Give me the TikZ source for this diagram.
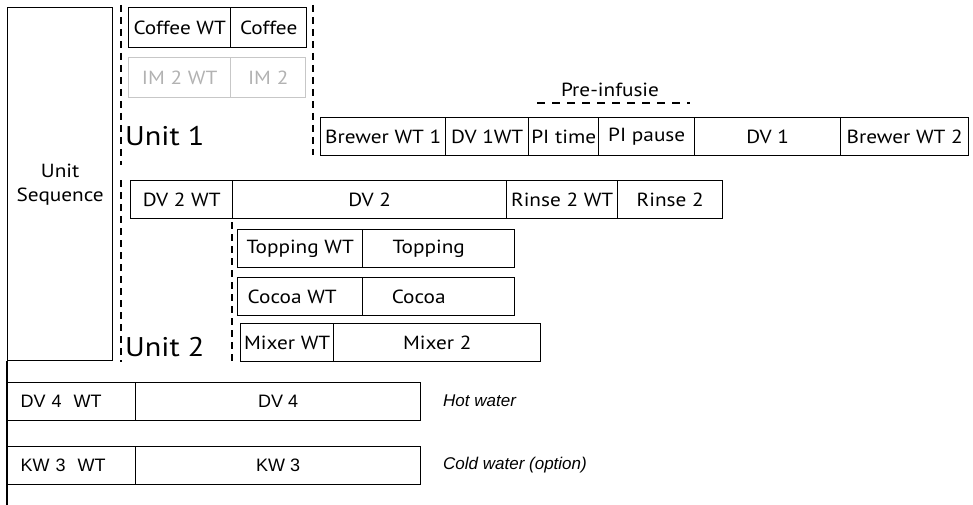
\documentclass[tikz,border=0pt]{standalone}
\usepackage{fontspec}
\setmainfont{PT Sans}[FakeStretch=1.12]
\newfontfamily\arialfont{Liberation Sans}
\begin{document}
\begin{tikzpicture}[x=1pt,y=-1pt,
  cell/.style={draw, line width=1.4pt, rectangle, anchor=north west, inner sep=0pt,
    minimum height=38pt, font=\fontsize{19}{21}\selectfont},
  graycell/.style={cell, draw=black!22, text=black!30, minimum height=40pt},
  acell/.style={cell, font=\arialfont\fontsize{18}{20}\selectfont},
  acellL/.style={acell, text width=102pt, inner xsep=13pt, align=left},
  divider/.style={line width=1.3pt, dash pattern=on 7pt off 5pt},
  predash/.style={line width=1.3pt, dash pattern=on 8pt off 7pt},
  unitlabel/.style={anchor=west, inner sep=0pt, font=\fontsize{27}{30}\selectfont},
  note/.style={anchor=west, inner sep=0pt, font=\arialfont\itshape\fontsize{17}{19}\selectfont}]
\useasboundingbox (0,0) rectangle (973,505);

% unit sequence
\node[cell, minimum width=105pt, minimum height=353pt, align=center] (seq) at (7,7) {Unit\\[3pt]Sequence};
\coordinate (seqend) at (7,505);
\draw[line width=1.4pt] (seq.south west) -- (seqend);

% unit 1
\node[cell, minimum width=102pt, minimum height=40pt] (coffeewt) at (128,7) {Coffee WT};
\node[cell, minimum width=76pt, minimum height=40pt] (coffee) at (230,7) {Coffee};
\node[graycell, minimum width=102pt] (im2wt) at (128,57) {IM 2 WT};
\node[graycell, minimum width=75pt] (im2) at (230,57) {IM 2};
\node[unitlabel] (unit1) at (125,136) {Unit 1};
\coordinate (u1a) at (121,5); \coordinate (u1b) at (121,165);
\coordinate (u1c) at (313,5); \coordinate (u1d) at (313,155);
\draw[divider] (u1a) -- (u1b);
\draw[divider] (u1c) -- (u1d);

% brewer row
\node[cell, minimum width=125pt] (b1) at (320,117) {Brewer WT 1};
\node[cell, minimum width=83pt] (dv1wt) at (445,117) {DV 1WT};
\node[cell, minimum width=70pt] (pitime) at (528,117) {PI time};
\node[cell, minimum width=96pt] (pipause) at (598,117) {PI pause};
\node[cell, minimum width=146pt] (dv1) at (694,117) {DV 1};
\node[cell, minimum width=128pt] (b2) at (840,117) {Brewer WT 2};
\node[inner sep=0pt, font=\fontsize{19}{21}\selectfont] (pre) at (610,90) {Pre-infusie};
\coordinate (prea) at (537,103); \coordinate (preb) at (690,103);
\draw[predash] (prea) -- (preb);

% DV2 row
\node[cell, minimum width=102pt] (dv2wt) at (130,180) {DV 2 WT};
\node[cell, minimum width=274pt] (dv2) at (232,180) {DV 2};
\node[cell, minimum width=111pt] (rinsewt) at (506,180) {Rinse 2 WT};
\node[cell, minimum width=105pt] (rinse) at (617,180) {Rinse 2};

% unit 2
\node[cell, minimum width=125pt] (topwt) at (237,229) {Topping WT};
\node[cell, minimum width=152pt] (top) at (362,229) {Topping\hspace*{20pt}};
\node[cell, minimum width=125pt] (cocwt) at (237,277) {Cocoa WT\hspace*{16pt}};
\node[cell, minimum width=152pt] (coc) at (362,277) {Cocoa\hspace*{40pt}};
\node[cell, minimum width=93pt] (mixwt) at (240,323) {Mixer WT};
\node[cell, minimum width=207pt] (mix) at (333,323) {Mixer 2};
\node[unitlabel] (unit2) at (125,347) {Unit 2};
\coordinate (u2a) at (121,180); \coordinate (u2b) at (121,362);
\coordinate (u2c) at (232,222); \coordinate (u2d) at (232,364);
\draw[divider] (u2a) -- (u2b);
\draw[divider] (u2c) -- (u2d);

% water rows
\node[acellL] (dv4wt) at (7,382) {DV 4\ \ WT};
\node[acell, minimum width=285pt] (dv4) at (135,382) {DV 4};
\node[note] (hot) at (443,401) {Hot water};
\node[acellL] (kw3wt) at (7,446) {KW 3\ \ WT};
\node[acell, minimum width=285pt] (kw3) at (135,446) {KW 3};
\node[note] (cold) at (443,465) {Cold water (option)};
\end{tikzpicture}
\end{document}
